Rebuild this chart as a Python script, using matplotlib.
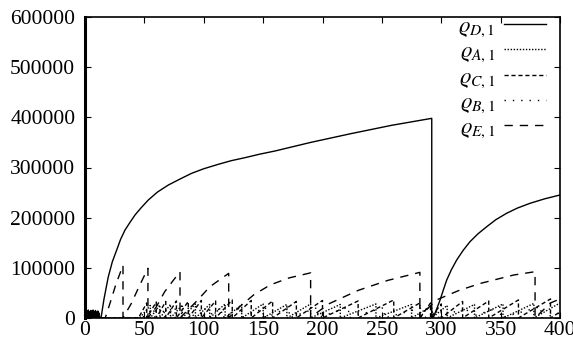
import matplotlib
matplotlib.use('Agg')
import matplotlib.pyplot as plt

plt.rcParams['font.family'] = ['Liberation Serif', 'DejaVu Serif']
plt.rcParams['mathtext.fontset'] = 'stix'

# rho_D,1 (solid): start spike, noisy start, then two growth curves
d_x = [0, 0.3, 0.8, 1.3, 1.8, 2.3, 2.8, 3.3, 3.8, 4.3, 4.8, 5.3, 5.8, 6.3, 6.8, 7.3, 7.8, 8.3,
       8.8, 9.3, 9.8, 10.3, 10.8, 11.3, 11.8, 12.5, 13.5, 16, 19.6, 23, 26.7,
       30, 33.7, 38, 42.1, 47, 53.3, 61, 70.2, 80, 89.8, 100, 112.3, 123, 134.7, 147, 160, 190,
       223, 258, 292, 292, 294, 296.5, 299, 301.5, 304.6, 308.5, 313, 318.5, 324.2, 331, 338.3,
       346, 355, 364, 374.7, 387, 400]
d_y = [700000, 0, 15000, 2000, 14000, 0, 16000, 3000, 13000, 0, 15000, 2000, 14000, 0, 16000,
       1000, 13000, 0, 15000, 2000, 12000, 0, 14000, 1000, 10000, 0, 0, 38000, 82000, 112000,
       135600, 157000, 175400, 191000, 205300, 219000, 235200, 251000, 265100, 277000, 288400,
       297500, 306400, 313500, 319600, 326500, 332900, 350000, 367000, 384000, 398000, 0, 5000,
       20000, 35900, 54000, 75700, 96000, 115600, 135000, 152100, 168000, 182000, 196000,
       208700, 219000, 228600, 237500, 245200]

# rho_E,1 (long dashes): large sawtooth
e_x = [0, 17, 21, 26, 32, 32, 39, 46, 53, 53, 60, 67, 74, 80, 80, 85, 95, 105, 115, 121, 121,
       130, 142, 156, 172, 190, 190, 196, 206, 230, 255, 282, 282, 289, 296, 315, 333, 361, 379,
       379, 392, 400]
e_y = [0, 0, 29000, 67000, 105000, 0, 29000, 65000, 99000, 0, 22000, 52000, 74000, 92000, 0,
       12000, 36000, 62000, 79000, 89000, 0, 22000, 46000, 66000, 80000, 90000, 0, 12000, 29000,
       55000, 75000, 91000, 0, 20000, 36000, 55000, 69000, 85700, 92300, 0, 30000, 38000]

# small sawtooth series: reset times and peak values
c_drops = [52, 60, 68, 77, 87, 98, 110, 124, 140, 158, 178, 200, 230, 260, 282, 291, 300, 318,
           340, 365, 392]
c_peaks = [30000, 32000, 33000, 34000, 33000, 35000, 34000, 36000, 35000, 34000, 33000, 35000,
           34000, 36000, 30000, 30000, 28000, 33000, 34000, 36000, 38000]
a_drops = [55, 63, 72, 82, 93, 105, 118, 132, 150, 170, 190, 215, 245, 275, 292, 305, 328, 352,
           378]
a_peaks = [25000, 26000, 27000, 26000, 28000, 27000, 28000, 27000, 28000, 27000, 28000, 27000,
           28000, 27000, 24000, 25000, 27000, 28000, 29000]
b_drops = [58, 66, 76, 88, 101, 115, 132, 152, 172, 196, 222, 252, 286, 296, 322, 350, 384]
b_peaks = [20000, 21000, 22000, 21000, 22000, 21000, 22000, 21000, 22000, 21000, 22000, 21000,
           22000, 18000, 21000, 22000, 23000]


def teeth(start, drops, peaks, x_end, end_val):
    xs, ys = [0, start], [0, 0]
    for dx, pk in zip(drops, peaks):
        xs += [dx, dx]
        ys += [pk, 0]
    xs.append(x_end)
    ys.append(end_val)
    return xs, ys


a_x, a_y = teeth(46, a_drops, a_peaks, 400, 30000)
c_x, c_y = teeth(45, c_drops, c_peaks, 400, 12000)
b_x, b_y = teeth(48, b_drops, b_peaks, 400, 10000)

fig = plt.figure(figsize=(5.73, 3.45), dpi=100)
ax = fig.add_axes([85 / 573, 27 / 345, 475 / 573, 301 / 345])

lw = 1.0
ax.plot(d_x, d_y, color='black', lw=lw, linestyle='-', label=r'$\varrho_{D,1}$')
ax.plot(a_x, a_y, color='black', lw=lw, linestyle=(0, (1, 1.2)), label=r'$\varrho_{A,1}$')
ax.plot(c_x, c_y, color='black', lw=lw, linestyle=(0, (3, 2)), label=r'$\varrho_{C,1}$')
ax.plot(b_x, b_y, color='black', lw=lw, linestyle=(0, (1, 5)), label=r'$\varrho_{B,1}$')
ax.plot(e_x, e_y, color='black', lw=lw, linestyle=(0, (6, 5)), label=r'$\varrho_{E,1}$')

ax.set_xlim(0, 400)
ax.set_ylim(0, 600000)
ax.set_xticks(range(0, 401, 50))
ax.set_yticks(range(0, 600001, 100000))
ax.set_yticklabels([str(v) for v in range(0, 600001, 100000)])
ax.tick_params(direction='in', top=True, right=True, length=4.5, width=0.8, labelsize=15.5)
ax.tick_params(axis='x', pad=2)
ax.tick_params(axis='y', pad=7)
for s in ax.spines.values():
    s.set_linewidth(1.2)
ax.spines['left'].set_linewidth(2.2)

ax.legend(loc='upper right', frameon=False, markerfirst=False, fontsize=16,
          handlelength=1.9, labelspacing=0.12, borderaxespad=0.0, borderpad=0.1,
          handletextpad=0.4, bbox_to_anchor=(0.975, 1.01))

fig.savefig('out.png', dpi=100)
